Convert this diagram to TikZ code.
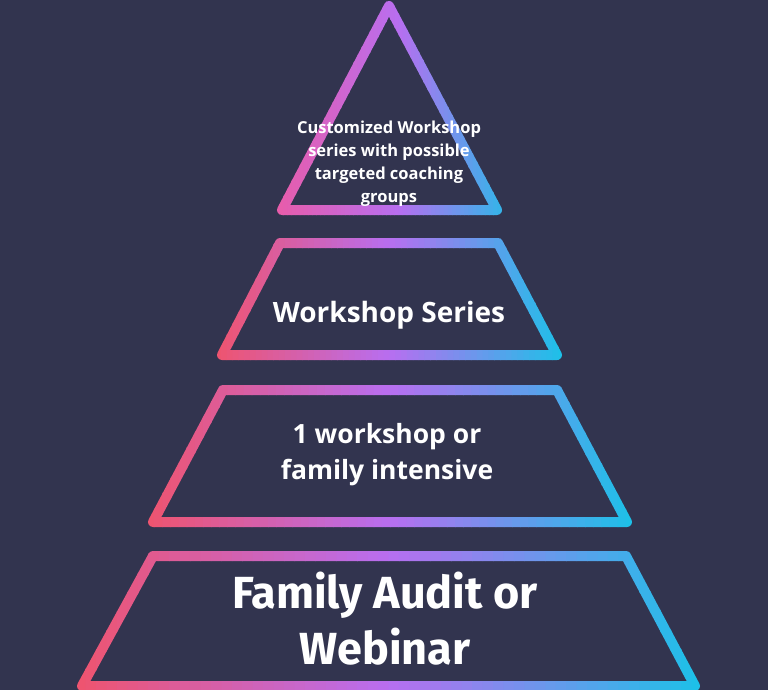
\documentclass[tikz,border=0pt]{standalone}
\usepackage{fontspec}
\setsansfont{Open Sans}
\newfontfamily\auditfont{Fira Sans}
\usepackage{xcolor}
\usepackage{tikz}
\usetikzlibrary{positioning,calc}

\definecolor{bgnavy}{RGB}{50,52,79}
\definecolor{tierpink}{RGB}{238,84,112}
\definecolor{tiermagenta}{RGB}{232,92,170}
\definecolor{tierpurple}{RGB}{184,110,240}
\definecolor{tiercyan}{RGB}{30,192,232}

% stroke of a tier, coloured left to right in thin strips
% #1 start colour, #2 xmin, #3 xmax, #4 path
\newcommand{\tierstroke}[4]{%
  \foreach \k in {0,...,59}{
    \pgfmathsetmacro{\xa}{#2-7+(#3-#2+14)/60*\k}
    \pgfmathsetmacro{\xb}{#2-7+(#3-#2+14)/60*(\k+1)+0.6}
    \pgfmathtruncatemacro{\pc}{round(200/59*\k)}
    \ifnum\pc<100
      \colorlet{stripcol}{tierpurple!\pc!#1}
    \else
      \pgfmathtruncatemacro{\pd}{\pc-100}
      \colorlet{stripcol}{tiercyan!\pd!tierpurple}
    \fi
    \begin{scope}
      \clip (\xa,-10) rectangle (\xb,700);
      \draw[tier line, stripcol] #4;
    \end{scope}
  }%
}

\begin{document}
\begin{tikzpicture}[x=1pt, y=-1pt]
    % Styles
    \tikzstyle{tier line} = [line width=10pt, line join=round]
    \tikzstyle{tier label} = [text=white, font=\sffamily\bfseries, align=center, inner sep=0pt]

    % Background
    \fill[bgnavy] (0,0) rectangle (768,690);
    \useasboundingbox (0,0) rectangle (768,690);

    % Tiers
    \tierstroke{tiermagenta}{282}{515}{(389,6) -- (497,210) -- (282,210) -- cycle}
    \tierstroke{tierpink}{222}{557}{(280,243) -- (498,243) -- (557,355) -- (222,355) -- cycle}
    \tierstroke{tierpink}{153}{627}{(223,390) -- (557,390) -- (627,522) -- (153,522) -- cycle}
    \tierstroke{tierpink}{82}{695}{(153,556) -- (626,556) -- (695,686) -- (82,686) -- cycle}

    % Labels
    \node [tier label, font=\sffamily\bfseries\fontsize{16.5}{23}\selectfont] (Custom) at (389,164)
        {Customized Workshop\\series with possible\\targeted coaching\\groups};
    \node [tier label, font=\sffamily\bfseries\fontsize{28}{34}\selectfont] (Series) at (389,315)
        {Workshop Series};
    \node [tier label, font=\sffamily\bfseries\fontsize{26.5}{36}\selectfont] (Single) at (387,455)
        {1 workshop or\\family intensive};
    \node [tier label, font=\auditfont\bfseries\fontsize{45}{56}\selectfont] (Audit) at (385,619)
        {Family Audit or\\Webinar};
\end{tikzpicture}
\end{document}
